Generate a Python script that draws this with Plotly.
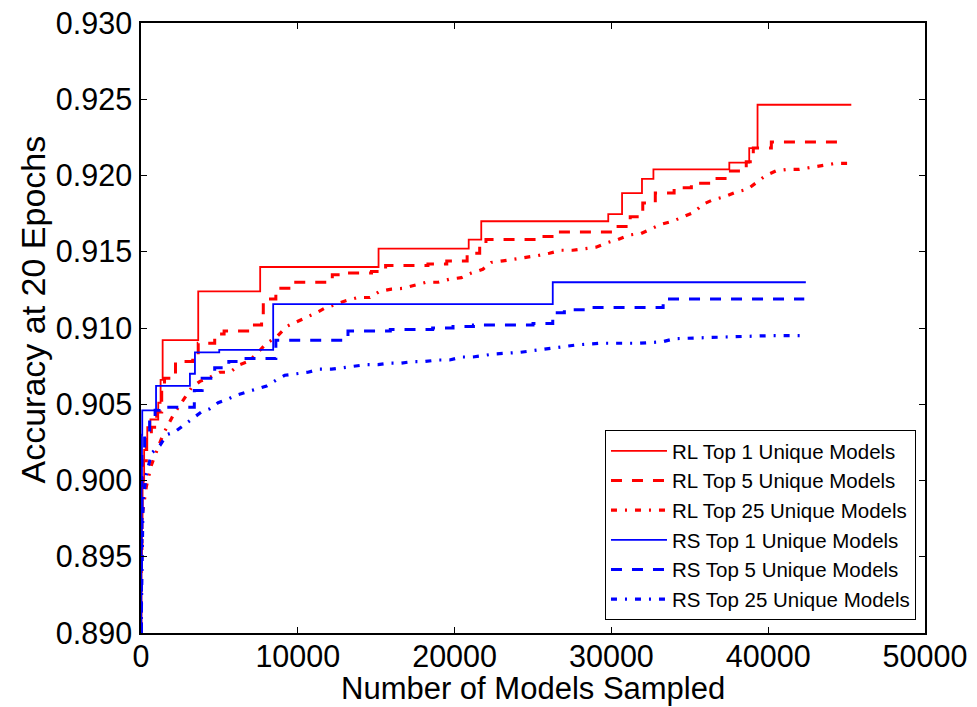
import plotly.graph_objects as go

# ---- data ----
rl1_x = [0, 30, 60, 100, 200, 400, 600, 1100, 1250, 1380, 3650, 7600, 15150, 20900, 21700,
         29800, 30680, 31950, 32680, 37520, 38790, 39320, 45300]
rl1_y = [0.890, 0.894, 0.8975, 0.900, 0.902, 0.9035, 0.9040, 0.9051, 0.9066, 0.9092, 0.9124,
         0.9140, 0.9152, 0.9158, 0.9170, 0.91747, 0.91885, 0.91978, 0.9204, 0.92085, 0.9218,
         0.92464, 0.92464]

rl5_x = [0, 30, 60, 130, 340, 660, 1000, 1320, 1500, 2200, 3300, 3650, 4700, 5300, 6800, 7690,
         7800, 8600, 9600, 12200, 13300, 14700, 15600, 16700, 18300, 19500, 20800, 21600, 22000,
         25300, 26400, 30200, 31200, 32000, 32800, 34000, 35100, 36300, 37400, 38600, 39050,
         40200, 45000]
rl5_y = [0.890, 0.895, 0.8996, 0.9013, 0.9027, 0.9035, 0.9045, 0.9060, 0.9067, 0.9078, 0.9080,
         0.9090, 0.9096, 0.9098, 0.9102, 0.9110, 0.9119, 0.9126, 0.9130, 0.9135, 0.9136, 0.9137,
         0.9141, 0.9141, 0.9142, 0.9144, 0.9149, 0.9155, 0.9158, 0.9160, 0.9163, 0.91665, 0.9173,
         0.9182, 0.91885, 0.9192, 0.9195, 0.9198, 0.9203, 0.9209, 0.9218, 0.9222, 0.9222]

rl25_x = [0, 60, 340, 660, 1400, 2060, 3230, 3760, 4270, 5030, 5670, 6300, 6830, 7370, 8000,
          8640, 9280, 9920, 10450, 11190, 11720, 12570, 13100, 13840, 14600, 15220, 15970, 16700,
          17450, 18200, 18940, 19680, 20430, 21060, 21800, 22340, 23080, 24570, 25300, 26050,
          26800, 27530, 28280, 29020, 29760, 30400, 31150, 31890, 32530, 33170, 33900, 34540,
          35290, 35820, 36450, 37200, 37940, 38680, 39220, 39850, 40490, 41230, 41970, 42820,
          43570, 44310, 45050]
rl25_y = [0.890, 0.8976, 0.8996, 0.9010, 0.9030, 0.9043, 0.9061, 0.9065, 0.9067, 0.9071, 0.9071,
          0.9076, 0.9078, 0.9083, 0.9090, 0.9094, 0.9101, 0.9104, 0.9106, 0.9110, 0.9113, 0.9116,
          0.9118, 0.9120, 0.9120, 0.9124, 0.91255, 0.9126, 0.9128, 0.9130, 0.9130, 0.9132, 0.9133,
          0.9136, 0.91385, 0.9143, 0.9144, 0.9146, 0.91475, 0.9149, 0.9151, 0.9151, 0.9152,
          0.9153, 0.9156, 0.9158, 0.9161, 0.9162, 0.9165, 0.9168, 0.9170, 0.9173, 0.9176, 0.9181,
          0.9184, 0.9186, 0.9189, 0.9191, 0.9195, 0.9200, 0.9203, 0.9204, 0.9204, 0.92055, 0.9207,
          0.9208, 0.9208]

rs1_x = [0, 20, 40, 60, 80, 960, 3120, 3440, 4990, 8430, 26260, 42400]
rs1_y = [0.890, 0.895, 0.900, 0.903, 0.9046, 0.9062, 0.9070, 0.9084, 0.90857, 0.91156, 0.9130,
         0.9130]

rs5_x = [0, 30, 60, 230, 550, 900, 1150, 3400, 3900, 4700, 5600, 6700, 8600, 13200, 15900,
         18600, 19900, 21200, 25000, 26260, 27000, 28200, 33300, 42300]
rs5_y = [0.890, 0.896, 0.9020, 0.9032, 0.9041, 0.9046, 0.9048, 0.9059, 0.9067, 0.9074, 0.9078,
         0.9080, 0.9092, 0.9098, 0.9099, 0.9100, 0.9101, 0.9102, 0.9103, 0.9110, 0.9112, 0.91134,
         0.9119, 0.9119]

rs25_x = [0, 60, 130, 340, 680, 1210, 1640, 2170, 2700, 3330, 3860, 4390, 4920, 5460, 6090,
          6730, 7370, 8010, 8640, 9170, 9920, 10650, 11400, 12150, 12890, 13630, 14380, 15120,
          15860, 16600, 17340, 18090, 18940, 19680, 20430, 21170, 21910, 22550, 24140, 24890,
          25620, 26370, 27850, 29340, 31780, 33270, 34010, 36990, 40170, 42300]
rs25_y = [0.890, 0.8960, 0.8987, 0.9004, 0.9018, 0.9023, 0.9030, 0.9032, 0.9036, 0.9041, 0.9045,
          0.9047, 0.9051, 0.9053, 0.9056, 0.9058, 0.9060, 0.9062, 0.9066, 0.9069, 0.9070, 0.9071,
          0.9073, 0.9073, 0.9074, 0.9075, 0.9076, 0.9076, 0.9077, 0.9077, 0.9078, 0.9078, 0.9079,
          0.9079, 0.9081, 0.9081, 0.9082, 0.9083, 0.9084, 0.9085, 0.9086, 0.9087, 0.9089, 0.9090,
          0.9090, 0.9091, 0.9093, 0.9094, 0.9095, 0.9095]

x_ticks = [0, 10000, 20000, 30000, 40000, 50000]
y_ticks = [0.890, 0.895, 0.900, 0.905, 0.910, 0.915, 0.920, 0.925, 0.930]

RED = "#ff0000"
BLUE = "#0000ff"
DASH = "11px,10px"
DASHDOT = "6px,8px,2px,8px"

series = [
    ("RL Top 1 Unique Models", rl1_x, rl1_y, RED, "solid", 1.8, "hv"),
    ("RL Top 5 Unique Models", rl5_x, rl5_y, RED, DASH, 3, "hv"),
    ("RL Top 25 Unique Models", rl25_x, rl25_y, RED, DASHDOT, 3.2, "linear"),
    ("RS Top 1 Unique Models", rs1_x, rs1_y, BLUE, "solid", 1.8, "hv"),
    ("RS Top 5 Unique Models", rs5_x, rs5_y, BLUE, DASH, 3, "hv"),
    ("RS Top 25 Unique Models", rs25_x, rs25_y, BLUE, DASHDOT, 3.2, "linear"),
]

fig = go.Figure()
for name, xs, ys, col, dash, w, shape in series:
    fig.add_trace(go.Scatter(x=xs, y=ys, mode="lines", name=name,
                             line=dict(color=col, dash=dash, width=w, shape=shape)))

FONT = "Liberation Sans, Arial, sans-serif"
axis_common = dict(showline=True, linecolor="black", linewidth=1.5, mirror="ticks",
                   ticks="inside", ticklen=6, tickwidth=1, tickcolor="black",
                   showgrid=False, zeroline=False, automargin=False,
                   tickfont=dict(family=FONT, size=30.5, color="black"))

fig.update_layout(
    width=977, height=707,
    margin=dict(l=141, r=52, t=23, b=74),
    paper_bgcolor="white", plot_bgcolor="white",
    font=dict(family=FONT, color="black"),
    xaxis=dict(range=[0, 50000], tickvals=x_ticks, ticktext=[str(v) for v in x_ticks],
               ticklabelstandoff=-4,
               **axis_common),
    yaxis=dict(range=[0.890, 0.930], tickvals=y_ticks, ticktext=[f"{v:.3f}" for v in y_ticks],
               ticklabelstandoff=1,
               **axis_common),
    annotations=[
        dict(text="Accuracy at 20 Epochs", xref="paper", yref="paper",
             x=-0.138, y=0.53, xanchor="center", yanchor="middle",
             textangle=-90, showarrow=False,
             font=dict(family=FONT, size=34, color="black")),
        dict(text="Number of Models Sampled", xref="paper", yref="paper",
             x=0.5, y=-0.0905, xanchor="center", yanchor="middle",
             showarrow=False,
             font=dict(family=FONT, size=31, color="black")),
    ],
    legend=dict(x=0.9885, y=0.0213, xanchor="right", yanchor="bottom",
                bgcolor="white", bordercolor="black", borderwidth=1,
                font=dict(family=FONT, size=20.5, color="black"),
                itemwidth=56, tracegroupgap=0),
    showlegend=True,
)

fig.write_html("out.html", config={"displayModeBar": False},
               post_script="document.body.style.margin='0';")
